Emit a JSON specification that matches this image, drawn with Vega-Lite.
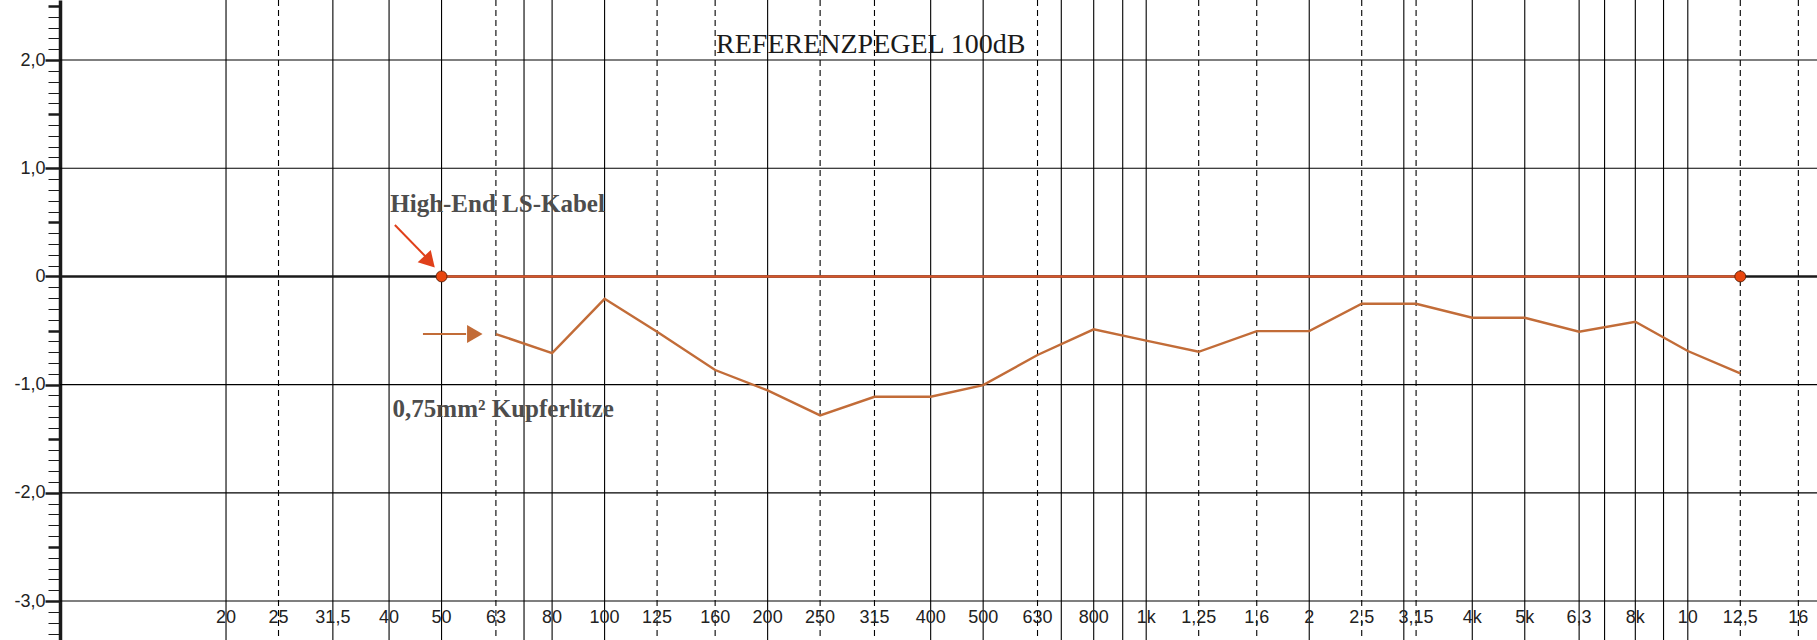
{
  "$schema": "https://vega.github.io/schema/vega-lite/v6.json",
  "width": 1757,
  "height": 640,
  "autosize": {"type": "none"},
  "padding": {"left": 60, "top": 0, "right": 0, "bottom": 0},
  "background": "white",
  "config": {"view": {"stroke": null}},
  "resolve": {"axis": {"y": "independent"}},
  "datasets": {
    "grid": [
      {"f": 20, "style": "solid", "label": "20"},
      {"f": 25, "style": "dashed", "label": "25"},
      {"f": 31.5, "style": "solid", "label": "31,5"},
      {"f": 40, "style": "solid", "label": "40"},
      {"f": 50, "style": "solid", "label": "50"},
      {"f": 63, "style": "dashed", "label": "63"},
      {"f": 71, "style": "solid", "label": ""},
      {"f": 80, "style": "solid", "label": "80"},
      {"f": 100, "style": "solid", "label": "100"},
      {"f": 125, "style": "dashed", "label": "125"},
      {"f": 160, "style": "dashed", "label": "160"},
      {"f": 200, "style": "solid", "label": "200"},
      {"f": 250, "style": "dashed", "label": "250"},
      {"f": 315, "style": "dashed", "label": "315"},
      {"f": 400, "style": "solid", "label": "400"},
      {"f": 500, "style": "solid", "label": "500"},
      {"f": 630, "style": "dashed", "label": "630"},
      {"f": 697, "style": "solid", "label": ""},
      {"f": 800, "style": "solid", "label": "800"},
      {"f": 905, "style": "solid", "label": ""},
      {"f": 1000, "style": "solid", "label": "1k"},
      {"f": 1250, "style": "dashed", "label": "1,25"},
      {"f": 1600, "style": "dashed", "label": "1,6"},
      {"f": 2000, "style": "solid", "label": "2"},
      {"f": 2500, "style": "dashed", "label": "2,5"},
      {"f": 2990, "style": "solid", "label": ""},
      {"f": 3150, "style": "dashed", "label": "3,15"},
      {"f": 4000, "style": "solid", "label": "4k"},
      {"f": 5000, "style": "solid", "label": "5k"},
      {"f": 6300, "style": "solid", "label": "6,3"},
      {"f": 7020, "style": "solid", "label": ""},
      {"f": 8000, "style": "solid", "label": "8k"},
      {"f": 9020, "style": "solid", "label": ""},
      {"f": 10000, "style": "solid", "label": "10"},
      {"f": 12500, "style": "dashed", "label": "12,5"},
      {"f": 16000, "style": "dashed", "label": "16"}
    ],
    "ticks": [
      {"v": -3.3}, {"v": -3.2}, {"v": -3.1}, {"v": -3.0}, {"v": -2.9}, {"v": -2.8}, {"v": -2.7}, {"v": -2.6}, {"v": -2.5}, {"v": -2.4},
      {"v": -2.3}, {"v": -2.2}, {"v": -2.1}, {"v": -2.0}, {"v": -1.9}, {"v": -1.8}, {"v": -1.7}, {"v": -1.6}, {"v": -1.5}, {"v": -1.4},
      {"v": -1.3}, {"v": -1.2}, {"v": -1.1}, {"v": -1.0}, {"v": -0.9}, {"v": -0.8}, {"v": -0.7}, {"v": -0.6}, {"v": -0.5}, {"v": -0.4},
      {"v": -0.3}, {"v": -0.2}, {"v": -0.1}, {"v": 0}, {"v": 0.1}, {"v": 0.2}, {"v": 0.3}, {"v": 0.4}, {"v": 0.5}, {"v": 0.6},
      {"v": 0.7}, {"v": 0.8}, {"v": 0.9}, {"v": 1.0}, {"v": 1.1}, {"v": 1.2}, {"v": 1.3}, {"v": 1.4}, {"v": 1.5}, {"v": 1.6},
      {"v": 1.7}, {"v": 1.8}, {"v": 1.9}, {"v": 2.0}, {"v": 2.1}, {"v": 2.2}, {"v": 2.3}, {"v": 2.4}, {"v": 2.5}
    ],
    "ref": [
      {"f": 50, "v": 0},
      {"f": 12500, "v": 0}
    ],
    "kupfer": [
      {"f": 63, "v": -0.532},
      {"f": 80, "v": -0.708},
      {"f": 100, "v": -0.207},
      {"f": 125, "v": -0.511},
      {"f": 160, "v": -0.865},
      {"f": 200, "v": -1.053},
      {"f": 250, "v": -1.284},
      {"f": 315, "v": -1.112},
      {"f": 400, "v": -1.112},
      {"f": 500, "v": -1.004},
      {"f": 630, "v": -0.726},
      {"f": 800, "v": -0.489},
      {"f": 1000, "v": -0.593},
      {"f": 1250, "v": -0.696},
      {"f": 1600, "v": -0.505},
      {"f": 2000, "v": -0.505},
      {"f": 2500, "v": -0.252},
      {"f": 3150, "v": -0.252},
      {"f": 4000, "v": -0.382},
      {"f": 5000, "v": -0.382},
      {"f": 6300, "v": -0.511},
      {"f": 8000, "v": -0.419},
      {"f": 10000, "v": -0.689},
      {"f": 12500, "v": -0.896}
    ],
    "arrows": [
      {"f1": 41.0, "v1": 0.475, "f2": 46.8, "v2": 0.18, "c": "red"},
      {"f1": 46.2, "v1": -0.532, "f2": 55.5, "v2": -0.532, "c": "brown"}
    ],
    "heads": [
      {"f": 47.5, "v": 0.135, "c": "red", "a": 47},
      {"f": 57.6, "v": -0.532, "c": "brown", "a": 0}
    ],
    "notes": [
      {"f": 40.2, "v": 0.598, "text": "High-End LS-Kabel"},
      {"f": 40.6, "v": -1.297, "text": "0,75mm² Kupferlitze"}
    ],
    "title": [
      {"f": 310, "v": 2.065, "text": "REFERENZPEGEL 100dB"}
    ]
  },
  "layer": [
    {
      "data": {"name": "grid"},
      "mark": {"type": "rule", "color": "#000000", "strokeWidth": 1.1},
      "encoding": {
        "x": {"field": "f", "type": "quantitative", "scale": {"type": "log", "domain": [9.874, 17320], "nice": false}, "axis": null},
        "strokeDash": {"field": "style", "type": "nominal", "scale": {"domain": ["solid", "dashed"], "range": [[1, 0], [6, 4]]}, "legend": null}
      }
    },
    {
      "data": {"name": "ticks"},
      "transform": [{"filter": "abs(datum.v - round(datum.v)) < 0.01"}],
      "mark": {"type": "rule", "color": "#000000", "strokeWidth": 1.1},
      "encoding": {
        "y": {
          "field": "v",
          "type": "quantitative",
          "scale": {"domain": [-3.36, 2.555], "nice": false, "zero": false},
          "axis": {
            "orient": "left",
            "title": null,
            "values": [-3, -2, -1, 0, 1, 2],
            "domain": true,
            "domainColor": "#1a1a1a",
            "domainWidth": 3.5,
            "grid": false,
            "tickColor": "#1a1a1a",
            "tickSize": 15,
            "tickWidth": 2.5,
            "labelExpr": "datum.value == 0 ? '0' : (datum.value < 0 ? '-' : '') + abs(datum.value) + ',0'",
            "labelFont": "Liberation Sans",
            "labelFontSize": 18,
            "labelColor": "#222222",
            "labelPadding": 0,
            "labelOverlap": false,
            "labelBound": false
          }
        }
      }
    },
    {
      "data": {"name": "ticks"},
      "transform": [{"filter": "abs(datum.v * 2 - round(datum.v * 2)) < 0.01"}],
      "mark": {"type": "point", "opacity": 0},
      "encoding": {
        "y": {
          "field": "v",
          "type": "quantitative",
          "scale": {"domain": [-3.36, 2.555], "nice": false, "zero": false},
          "axis": {
            "orient": "left",
            "title": null,
            "values": [-2.5, -1.5, -0.5, 0.5, 1.5, 2.5],
            "domain": false,
            "grid": false,
            "labels": false,
            "tickColor": "#1a1a1a",
            "tickSize": 12,
            "tickWidth": 2.5
          }
        }
      }
    },
    {
      "data": {"name": "ticks"},
      "mark": {"type": "point", "opacity": 0},
      "encoding": {
        "y": {
          "field": "v",
          "type": "quantitative",
          "scale": {"domain": [-3.36, 2.555], "nice": false, "zero": false},
          "axis": {
            "orient": "left",
            "title": null,
            "values": [-3.3, -3.2, -3.1, -2.9, -2.8, -2.7, -2.6, -2.4, -2.3, -2.2, -2.1, -1.9, -1.8, -1.7, -1.6, -1.4, -1.3, -1.2, -1.1, -0.9, -0.8, -0.7, -0.6, -0.4, -0.3, -0.2, -0.1, 0.1, 0.2, 0.3, 0.4, 0.6, 0.7, 0.8, 0.9, 1.1, 1.2, 1.3, 1.4, 1.6, 1.7, 1.8, 1.9, 2.1, 2.2, 2.3, 2.4],
            "domain": false,
            "grid": false,
            "labels": false,
            "tickColor": "#1a1a1a",
            "tickSize": 12,
            "tickWidth": 1
          }
        }
      }
    },
    {
      "data": {"values": [{"v": 0}]},
      "mark": {"type": "rule", "color": "#1a1a1a", "strokeWidth": 2.5},
      "encoding": {
        "y": {"field": "v", "type": "quantitative", "scale": {"domain": [-3.36, 2.555], "nice": false, "zero": false}, "axis": null}
      }
    },
    {
      "data": {"name": "ref"},
      "mark": {"type": "line", "color": "#D4562C", "strokeWidth": 2.4},
      "encoding": {
        "x": {"field": "f", "type": "quantitative", "scale": {"type": "log", "domain": [9.874, 17320], "nice": false}, "axis": null},
        "y": {"field": "v", "type": "quantitative", "scale": {"domain": [-3.36, 2.555], "nice": false, "zero": false}, "axis": null}
      }
    },
    {
      "data": {"name": "kupfer"},
      "mark": {"type": "line", "color": "#C26C38", "strokeWidth": 2.4},
      "encoding": {
        "x": {"field": "f", "type": "quantitative", "scale": {"type": "log", "domain": [9.874, 17320], "nice": false}, "axis": null},
        "y": {"field": "v", "type": "quantitative", "scale": {"domain": [-3.36, 2.555], "nice": false, "zero": false}, "axis": null}
      }
    },
    {
      "data": {"name": "ref"},
      "mark": {"type": "point", "filled": true, "size": 120, "color": "#E8460E", "stroke": "#4a1500", "strokeWidth": 0.8, "opacity": 1},
      "encoding": {
        "x": {"field": "f", "type": "quantitative", "scale": {"type": "log", "domain": [9.874, 17320], "nice": false}, "axis": null},
        "y": {"field": "v", "type": "quantitative", "scale": {"domain": [-3.36, 2.555], "nice": false, "zero": false}, "axis": null}
      }
    },
    {
      "data": {"name": "arrows"},
      "mark": {"type": "rule", "strokeWidth": 2},
      "encoding": {
        "x": {"field": "f1", "type": "quantitative", "scale": {"type": "log", "domain": [9.874, 17320], "nice": false}, "axis": null},
        "x2": {"field": "f2"},
        "y": {"field": "v1", "type": "quantitative", "scale": {"domain": [-3.36, 2.555], "nice": false, "zero": false}, "axis": null},
        "y2": {"field": "v2"},
        "color": {"field": "c", "type": "nominal", "scale": {"domain": ["red", "brown"], "range": ["#E0401A", "#C26C38"]}, "legend": null}
      }
    },
    {
      "data": {"name": "heads"},
      "mark": {"type": "point", "shape": "triangle-right", "filled": true, "size": 320, "opacity": 1},
      "encoding": {
        "x": {"field": "f", "type": "quantitative", "scale": {"type": "log", "domain": [9.874, 17320], "nice": false}, "axis": null},
        "y": {"field": "v", "type": "quantitative", "scale": {"domain": [-3.36, 2.555], "nice": false, "zero": false}, "axis": null},
        "angle": {"field": "a", "type": "quantitative", "scale": null},
        "color": {"field": "c", "type": "nominal", "scale": {"domain": ["red", "brown"], "range": ["#E0401A", "#C26C38"]}, "legend": null}
      }
    },
    {
      "data": {"name": "notes"},
      "mark": {"type": "text", "align": "left", "baseline": "alphabetic", "font": "Liberation Serif", "fontWeight": "bold", "fontSize": 25, "color": "#4d4d4d"},
      "encoding": {
        "x": {"field": "f", "type": "quantitative", "scale": {"type": "log", "domain": [9.874, 17320], "nice": false}, "axis": null},
        "y": {"field": "v", "type": "quantitative", "scale": {"domain": [-3.36, 2.555], "nice": false, "zero": false}, "axis": null},
        "text": {"field": "text"}
      }
    },
    {
      "data": {"name": "title"},
      "mark": {"type": "text", "align": "center", "baseline": "alphabetic", "font": "Liberation Serif", "fontSize": 28, "color": "#1a1a1a"},
      "encoding": {
        "x": {"field": "f", "type": "quantitative", "scale": {"type": "log", "domain": [9.874, 17320], "nice": false}, "axis": null},
        "y": {"field": "v", "type": "quantitative", "scale": {"domain": [-3.36, 2.555], "nice": false, "zero": false}, "axis": null},
        "text": {"field": "text"}
      }
    },
    {
      "data": {"name": "grid"},
      "mark": {"type": "text", "align": "center", "baseline": "middle", "font": "Liberation Sans", "fontSize": 18, "color": "#222222"},
      "encoding": {
        "x": {"field": "f", "type": "quantitative", "scale": {"type": "log", "domain": [9.874, 17320], "nice": false}, "axis": null},
        "y": {"datum": -3.16, "type": "quantitative", "scale": {"domain": [-3.36, 2.555], "nice": false, "zero": false}, "axis": null},
        "text": {"field": "label"}
      }
    }
  ]
}
